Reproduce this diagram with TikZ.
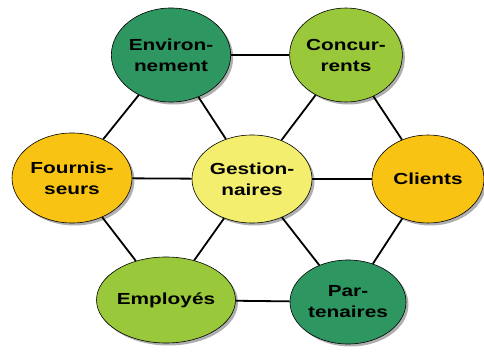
\documentclass[tikz,border=0pt]{standalone}
\usepackage{fontspec}
\usepackage{graphicx}
\setmainfont{Liberation Sans}
\usetikzlibrary{shapes.geometric,shadows}
\definecolor{dgreen}{HTML}{2E9660}
\definecolor{lgreen}{HTML}{99C83A}
\definecolor{gold}{HTML}{F9C314}
\definecolor{pale}{HTML}{F4EE6E}
\newcommand{\wtxt}[1]{\scalebox{1.3}[1]{#1}}
\tikzset{
  bub/.style={ellipse, draw=black, line width=0.6pt, inner sep=0pt,
    font=\bfseries\fontsize{16}{21}\selectfont, align=center,
    drop shadow={shadow xshift=2.5pt, shadow yshift=-2.5pt, fill=black!45, opacity=0.7}},
  link/.style={draw=black, line width=1.8pt}
}
\begin{document}
\begin{tikzpicture}[x=1pt,y=-1pt]
\useasboundingbox (0,0) rectangle (484,352);
\node[bub, fill=dgreen, minimum width=118pt, minimum height=94pt] (env) at (171,55) {\wtxt{Environ-}\\\wtxt{nement}};
\node[bub, fill=lgreen, minimum width=110pt, minimum height=94pt] (conc) at (346,55) {\wtxt{Concur-}\\\wtxt{rents}};
\node[bub, fill=gold, minimum width=120pt, minimum height=90pt] (fourn) at (72,178) {\wtxt{Fournis-}\\\wtxt{seurs}};
\node[bub, fill=pale, minimum width=120pt, minimum height=88pt] (gest) at (252,179) {\wtxt{Gestion-}\\\wtxt{naires}};
\node[bub, fill=gold, minimum width=112pt, minimum height=88pt] (cli) at (428,179) {\wtxt{Clients}};
\node[bub, fill=lgreen, minimum width=122pt, minimum height=86pt] (empl) at (166,300) {\wtxt{Employés}};
\node[bub, fill=dgreen, minimum width=116pt, minimum height=84pt] (part) at (348,302) {\wtxt{Par-}\\\wtxt{tenaires}};
\draw[link] (env) -- (conc);
\draw[link] (env) -- (fourn);
\draw[link] (env) -- (gest);
\draw[link] (conc) -- (gest);
\draw[link] (conc) -- (cli);
\draw[link] (fourn) -- (gest);
\draw[link] (gest) -- (cli);
\draw[link] (fourn) -- (empl);
\draw[link] (gest) -- (empl);
\draw[link] (gest) -- (part);
\draw[link] (cli) -- (part);
\draw[link] (empl) -- (part);
\end{tikzpicture}
\end{document}
